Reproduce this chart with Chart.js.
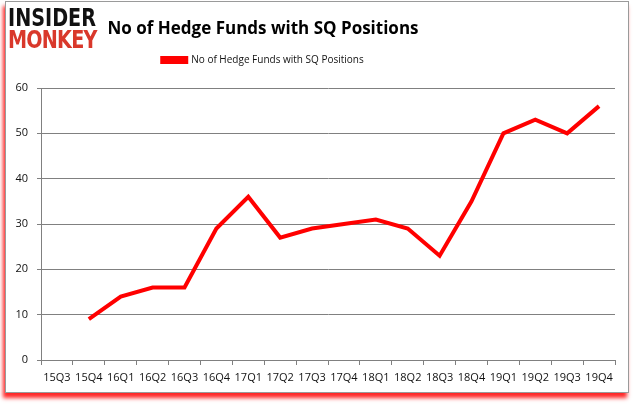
<!DOCTYPE html>
<html>
<head>
<meta charset="utf-8">
<script src="https://cdn.jsdelivr.net/npm/chart.js@4.4.0/dist/chart.umd.min.js"></script>
<style>
  html, body { margin: 0; padding: 0; background: #fff; }
  #wrap { position: relative; width: 635px; height: 405px; overflow: hidden; }
  #frame {
    position: absolute; left: 5px; top: 1px; width: 622px; height: 390px;
    border: 1px solid #9a9a9a; background: #fff;
    box-shadow: -2px 5px 4px rgba(255, 0, 0, 0.85);
  }
  #logo { position: absolute; left: 8px; top: 7px; font-family: "DejaVu Sans", sans-serif; font-weight: bold;
    line-height: 22px; font-size: 24px; letter-spacing: 0px; transform: scaleX(0.8); transform-origin: left top; }
  #logo .a { color: #111; }
  #logo .b { color: #d9382b; letter-spacing: -1px; }
  canvas { position: absolute; left: 0; top: 0; }
</style>
</head>
<body>
<div id="wrap">
  <div id="frame"></div>
  <canvas id="chart" width="635" height="405"></canvas>
  <div id="logo"><div class="a">INSIDER</div><div class="b">MONKEY</div></div>
</div>
<script>
const quarters = ['15Q3', '15Q4', '16Q1', '16Q2', '16Q3', '16Q4', '17Q1', '17Q2', '17Q3', '17Q4', '18Q1', '18Q2', '18Q3', '18Q4', '19Q1', '19Q2', '19Q3', '19Q4'];
const hedgeFunds = [null, 9, 14, 16, 16, 29, 36, 27, 29, 30, 31, 29, 23, 35, 50, 53, 50, 56];
const yTicks = [0, 10, 20, 30, 40, 50, 60];

const tickFont = { family: 'Open Sans, Liberation Sans, sans-serif', size: 11 };

// more room under the legend, and title + legend sit a bit left of centre like the original
const headerTweaks = {
  id: 'headerTweaks',
  beforeInit(chart) {
    const fit = chart.legend.fit;
    chart.legend.fit = function () {
      fit.call(this);
      this.height += 13;
    };
    [chart.legend, chart.titleBlock].forEach((box) => {
      const draw = box.draw;
      box.draw = function () {
        const ctx = this.ctx;
        ctx.save();
        ctx.translate(-47, 0);
        draw.apply(this, arguments);
        ctx.restore();
      };
    });
  },
};

new Chart(document.querySelector('#chart'), {
  type: 'line',
  data: {
    labels: quarters,
    datasets: [
      {
        label: 'No of Hedge Funds with SQ Positions',
        data: hedgeFunds,
        borderColor: '#ff0000',
        backgroundColor: '#ff0000',
        borderWidth: 4,
        pointRadius: 0,
        tension: 0,
      },
    ],
  },
  plugins: [headerTweaks],
  options: {
    responsive: false,
    animation: false,
    layout: { padding: { left: 5, right: 20, top: 6, bottom: 13 } },
    plugins: {
      title: {
        display: true,
        text: 'No of Hedge Funds with SQ Positions',
        color: '#000',
        font: { family: 'Open Sans, Liberation Sans, sans-serif', size: 17, weight: 'bold', lineHeight: 1 },
        padding: { top: 15, bottom: 0 },
      },
      legend: {
        labels: {
          color: '#111',
          font: { family: 'Open Sans, Liberation Sans, sans-serif', size: 10 },
          boxWidth: 24,
          boxHeight: 4,
          padding: 17,
        },
      },
      tooltip: { enabled: false },
    },
    scales: {
      x: {
        offset: true,
        grid: { offset: true, drawOnChartArea: false, drawTicks: true, tickLength: 5, color: '#808080' },
        border: { color: '#808080' },
        ticks: { color: '#111', font: tickFont, maxRotation: 0, autoSkip: false, padding: 6 },
        afterFit(scale) { scale.height = 32; },
      },
      y: {
        min: 0,
        max: 60,
        afterBuildTicks(scale) { scale.ticks = yTicks.map((v) => ({ value: v })); },
        grid: { color: '#808080', drawTicks: true, tickLength: 4 },
        border: { color: '#808080' },
        ticks: { color: '#111', font: tickFont, padding: 9 },
        afterFit(scale) { scale.width = 36; },
      },
    },
  },
});
</script>
</body>
</html>
